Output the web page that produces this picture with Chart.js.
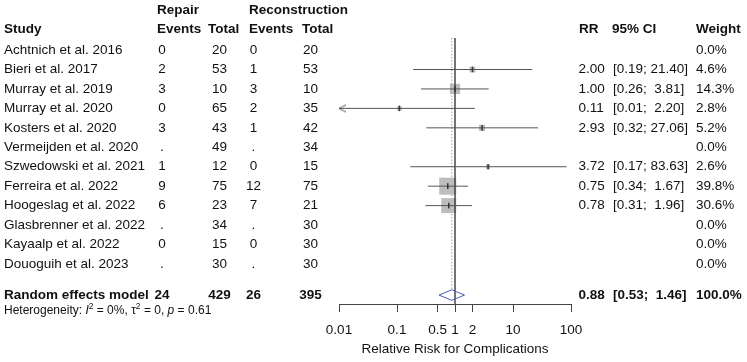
<!DOCTYPE html>
<html><head><meta charset="utf-8">
<script src="https://cdn.jsdelivr.net/npm/chart.js@4/dist/chart.umd.min.js"></script>
<style>html,body{margin:0;padding:0;background:#fff;}</style>
</head><body>
<canvas id="c" width="747" height="362"></canvas>
<script>
// ---- data ----
const studies = ['Achtnich et al. 2016','Bieri et al. 2017','Murray et al. 2019','Murray et al. 2020','Kosters et al. 2020','Vermeijden et al. 2020','Szwedowski et al. 2021','Ferreira et al. 2022','Hoogeslag et al. 2022','Glasbrenner et al. 2022','Kayaalp et al. 2022','Douoguih et al. 2023'];
const repairEvents = [0,2,3,0,3,null,1,9,6,null,0,null];
const repairTotal  = [20,53,10,65,43,49,12,75,23,34,15,30];
const reconEvents  = [0,1,3,2,1,null,0,12,7,null,0,null];
const reconTotal   = [20,53,10,35,42,34,15,75,21,30,30,30];
const rr     = [null,2.00,1.00,0.11,2.93,null,3.72,0.75,0.78,null,null,null];
const ciLow  = [null,0.19,0.26,0.01,0.32,null,0.17,0.34,0.31,null,null,null];
const ciHigh = [null,21.40,3.81,2.20,27.06,null,83.63,1.67,1.96,null,null,null];
const weights = [0.0,4.6,14.3,2.8,5.2,0.0,2.6,39.8,30.6,0.0,0.0,0.0];
const pooledLabel = 'Random effects model';
const pooledRepair = [24,429];
const pooledRecon  = [26,395];
const pooledEst = [0.88,0.53,1.46]; // RR, lower, upper
const pooledWeight = 100.0;
const xTicks = [0.01,0.1,0.5,1,2,10,100];
const axisTitle = 'Relative Risk for Complications';

// ---- layout helpers ----
const FONT = '"Liberation Sans", Arial, Helvetica, sans-serif';
const pooledRow = studies.length + 0.6;
const yTop = -0.62, yBottom = studies.length + 1.06;
const xMin = xTicks[0], xMax = xTicks[xTicks.length-1];
const estIdx = rr.map((v,i)=>i).filter(i=>rr[i]!=null);

// arrow image for truncated CI
const arrow = document.createElement('canvas');
arrow.width = 18; arrow.height = 10;
(function(){const a=arrow.getContext('2d');a.strokeStyle='#555';a.lineWidth=1;a.beginPath();a.moveTo(16,1.5);a.lineTo(9,5);a.lineTo(16,8.5);a.stroke();})();

const datasets = [];
// dotted line at pooled estimate
datasets.push({data:[{x:pooledEst[0],y:yTop},{x:pooledEst[0],y:pooledRow-0.27}],showLine:true,borderColor:'#8a8a8a',borderWidth:1,borderDash:[1.2,2],pointRadius:0,order:7});
// squares
datasets.push({data:estIdx.map(i=>({x:rr[i],y:i})),pointStyle:'rect',pointRadius:estIdx.map(i=>1.91*Math.sqrt(weights[i])),backgroundColor:'#bdbdbd',borderWidth:0,order:6});
// reference line at 1
datasets.push({data:[{x:1,y:yTop},{x:1,y:yBottom}],showLine:true,borderColor:'#3a3a3a',borderWidth:1.4,pointRadius:0,order:5});
// CI lines
estIdx.forEach(i=>{
  const trunc = ciLow[i] <= xMin;
  datasets.push({data:[{x:Math.max(ciLow[i],xMin),y:i},{x:ciHigh[i],y:i}],showLine:true,borderColor:'#555',borderWidth:1,
    pointStyle:(c)=> (trunc && c.dataIndex===0) ? arrow : 'circle',
    pointRadius:(c)=> (trunc && c.dataIndex===0) ? 6 : 0, order:4});
});
// estimate ticks
datasets.push({data:estIdx.map(i=>({x:rr[i],y:i})),pointStyle:'line',rotation:90,pointRadius:2.8,borderColor:'#333',borderWidth:1.5,order:3});
// diamond
datasets.push({data:[{x:pooledEst[1],y:pooledRow},{x:pooledEst[0],y:pooledRow-0.27},{x:pooledEst[2],y:pooledRow},{x:pooledEst[0],y:pooledRow+0.27},{x:pooledEst[1],y:pooledRow}],
  showLine:true,borderColor:'#4a5cc4',borderWidth:1,pointRadius:0,order:2});
datasets.forEach(d=>{d.clip=false;});

const fmtCI = (lo,hi)=> '[' + lo.toFixed(2) + ';' + (hi<10?'  ':' ') + hi.toFixed(2) + ']';

const textPlugin = {
  id:'forestText',
  afterDraw(chart){
    const ctx = chart.ctx, ys = chart.scales.y;
    const reg = '13.5px '+FONT, bold = 'bold 13.5px '+FONT;
    ctx.save();
    ctx.fillStyle = '#111'; ctx.textBaseline = 'middle';
    ctx.font = bold; ctx.textAlign = 'left';
    ctx.fillText('Repair',157,10.5); ctx.fillText('Reconstruction',249,10.5);
    const hy = 29.5;
    ctx.fillText('Study',4,hy); ctx.fillText('Events',157,hy); ctx.fillText('Total',208,hy);
    ctx.fillText('Events',249,hy); ctx.fillText('Total',302,hy);
    ctx.fillText('RR',579,hy); ctx.fillText('95% CI',612,hy); ctx.fillText('Weight',696,hy);
    ctx.font = reg;
    const cell = (v)=> v==null ? '.' : String(v);
    studies.forEach((s,i)=>{
      const y = ys.getPixelForValue(i);
      ctx.textAlign='left'; ctx.fillText(s,4,y);
      ctx.textAlign='center';
      ctx.fillText(cell(repairEvents[i]),162,y);
      ctx.fillText(cell(repairTotal[i]),219.5,y);
      ctx.fillText(cell(reconEvents[i]),253.5,y);
      ctx.fillText(cell(reconTotal[i]),310.5,y);
      ctx.textAlign='left';
      if (rr[i]!=null){
        ctx.fillText(rr[i].toFixed(2),578.5,y);
        ctx.fillText(fmtCI(ciLow[i],ciHigh[i]),613,y);
      }
      ctx.fillText(weights[i].toFixed(1)+'%',696,y);
    });
    // pooled row
    const py = ys.getPixelForValue(pooledRow);
    ctx.font = bold; ctx.textAlign='left';
    ctx.fillText(pooledLabel,4,py);
    ctx.textAlign='center';
    ctx.fillText(String(pooledRepair[0]),162,py);
    ctx.fillText(String(pooledRepair[1]),219.5,py);
    ctx.fillText(String(pooledRecon[0]),253.5,py);
    ctx.fillText(String(pooledRecon[1]),310.5,py);
    ctx.textAlign='left';
    ctx.fillText(pooledEst[0].toFixed(2),578.5,py);
    ctx.fillText(fmtCI(pooledEst[1],pooledEst[2]),613,py);
    ctx.fillText(pooledWeight.toFixed(1)+'%',696,py);
    // heterogeneity
    const hy2 = py + 15.5;
    let x = 4;
    const seg = (t,f,dy)=>{ctx.font=f; ctx.fillText(t,x,hy2+(dy||0)); x += ctx.measureText(t).width;};
    const n = '12px '+FONT, it = 'italic 12px '+FONT, sup = '8.5px '+FONT;
    seg('Heterogeneity: ',n); seg('I',it); seg('2',sup,-4); seg(' = 0%, \u03C4',n); seg('2',sup,-4);
    seg(' = 0, ',n); seg('p',it); seg(' = 0.61',n);
    ctx.restore();
  }
};

new Chart(document.getElementById('c'),{
  type:'scatter',
  data:{datasets},
  options:{
    responsive:false, animation:false, devicePixelRatio:1, events:[],
    layout:{padding:{left:339,right:176,top:38,bottom:0}},
    plugins:{legend:{display:false},tooltip:{enabled:false}},
    scales:{
      x:{type:'logarithmic',min:xMin,max:xMax,position:'bottom',
        afterBuildTicks:(s)=>{s.ticks = xTicks.map(v=>({value:v}));},
        afterFit:(s)=>{s.height = 58;},
        ticks:{callback:(v)=>String(v),font:{family:FONT,size:13.5},color:'#111',padding:10,maxRotation:0,autoSkip:false},
        grid:{display:true,drawOnChartArea:false,drawTicks:true,tickLength:8,color:'#444',lineWidth:1},
        border:{display:true,color:'#444',width:1},
        title:{display:true,text:axisTitle,font:{family:FONT,size:13.5},color:'#111',padding:{top:0,bottom:5}}
      },
      y:{type:'linear',display:false,reverse:true,min:yTop,max:yBottom}
    }
  },
  plugins:[textPlugin]
});
</script>
</body></html>
